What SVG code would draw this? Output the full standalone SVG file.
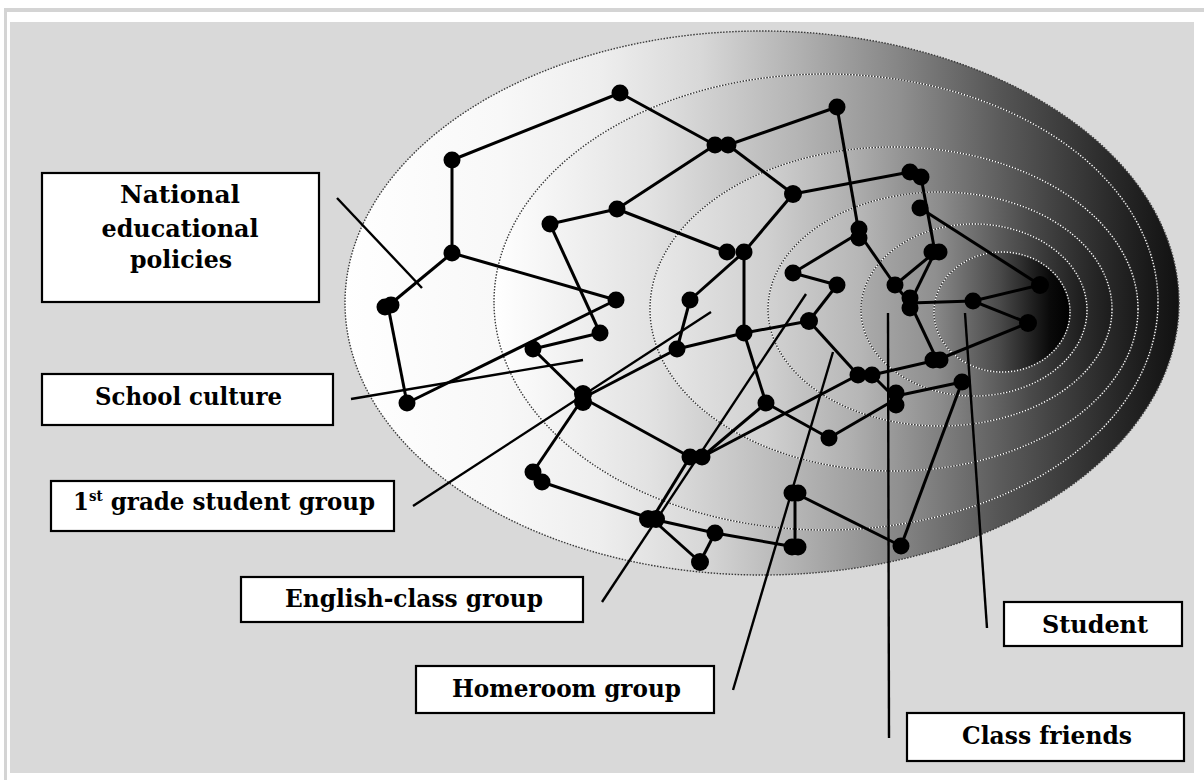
<svg xmlns="http://www.w3.org/2000/svg" width="1204" height="780" viewBox="0 0 1204 780">
<defs>
<linearGradient id="g1" x1="0" y1="0" x2="1" y2="0">
<stop offset="0" stop-color="#ffffff"/><stop offset="0.186" stop-color="#f8f8f8"/><stop offset="0.306" stop-color="#eeeeee"/><stop offset="0.426" stop-color="#d8d8d8"/><stop offset="0.546" stop-color="#b0b0b0"/><stop offset="0.665" stop-color="#858585"/><stop offset="0.785" stop-color="#555555"/><stop offset="0.905" stop-color="#2e2e2e"/><stop offset="1" stop-color="#111111"/>
</linearGradient>
<linearGradient id="g2" x1="0" y1="0" x2="1" y2="0">
<stop offset="0" stop-color="#ffffff"/><stop offset="0.235" stop-color="#e2e2e2"/><stop offset="0.46" stop-color="#b4b4b4"/><stop offset="0.61" stop-color="#909090"/><stop offset="0.76" stop-color="#5c5c5c"/><stop offset="0.9" stop-color="#333333"/><stop offset="1" stop-color="#151515"/>
</linearGradient>
<linearGradient id="g3" x1="0" y1="0" x2="1" y2="0">
<stop offset="0" stop-color="#e9e9e9"/><stop offset="0.24" stop-color="#d0d0d0"/><stop offset="0.41" stop-color="#b0b0b0"/><stop offset="0.615" stop-color="#7a7a7a"/><stop offset="0.82" stop-color="#444444"/><stop offset="1" stop-color="#1a1a1a"/>
</linearGradient>
<linearGradient id="g4" x1="0" y1="0" x2="1" y2="0">
<stop offset="0" stop-color="#d2d2d2"/><stop offset="0.27" stop-color="#b6b6b6"/><stop offset="0.5" stop-color="#8c8c8c"/><stop offset="0.76" stop-color="#4a4a4a"/><stop offset="1" stop-color="#1c1c1c"/>
</linearGradient>
<linearGradient id="g5" x1="0" y1="0" x2="1" y2="0">
<stop offset="0" stop-color="#ababab"/><stop offset="0.33" stop-color="#8f8f8f"/><stop offset="0.615" stop-color="#5a5a5a"/><stop offset="1" stop-color="#1a1a1a"/>
</linearGradient>
<linearGradient id="g6" x1="0" y1="0" x2="1" y2="0">
<stop offset="0" stop-color="#8a8a8a"/><stop offset="0.48" stop-color="#4a4a4a"/><stop offset="0.85" stop-color="#0a0a0a"/><stop offset="1" stop-color="#000000"/>
</linearGradient>
<style>
.rw{fill:none;stroke:#ffffff;stroke-width:1.4;stroke-dasharray:1.5 1.5}
.rk{fill:none;stroke:#3a3a3a;stroke-width:1.4;stroke-dasharray:1.5 1.5;stroke-dashoffset:1.5}
.e{stroke:#000;stroke-width:3;fill:none}
.ld{stroke:#000;stroke-width:2.4;fill:none}
.d{fill:#000}
.box{fill:#fff;stroke:#000;stroke-width:2.2}
.t{font-family:"DejaVu Serif","Liberation Serif",serif;font-weight:bold;font-size:24px;fill:#000}
</style>
</defs>
<rect x="0" y="0" width="1204" height="780" fill="#ffffff"/>
<rect x="4" y="8" width="1200" height="4" fill="#d4d4d4"/>
<rect x="4" y="8" width="3" height="772" fill="#d4d4d4"/>
<rect x="10" y="22" width="1184" height="751" fill="#d9d9d9"/>

<g id="rings">
<ellipse cx="762" cy="303" rx="417" ry="272" fill="url(#g1)"/>
<ellipse cx="762" cy="303" rx="417" ry="272" class="rk" style="stroke-dashoffset:0"/>
<ellipse cx="826" cy="302" rx="332" ry="228" fill="url(#g2)"/>
<ellipse cx="826" cy="302" rx="332" ry="228" class="rw"/><ellipse cx="826" cy="302" rx="332" ry="228" class="rk"/>
<ellipse cx="894" cy="309" rx="244" ry="162" fill="url(#g3)"/>
<ellipse cx="894" cy="309" rx="244" ry="162" class="rw"/><ellipse cx="894" cy="309" rx="244" ry="162" class="rk"/>
<ellipse cx="940" cy="309" rx="172" ry="117" fill="url(#g4)"/>
<ellipse cx="940" cy="309" rx="172" ry="117" class="rw"/><ellipse cx="940" cy="309" rx="172" ry="117" class="rk"/>
<ellipse cx="974" cy="310" rx="113" ry="86" fill="url(#g5)"/>
<ellipse cx="974" cy="310" rx="113" ry="86" class="rw"/><ellipse cx="974" cy="310" rx="113" ry="86" class="rk"/>
<ellipse cx="1002" cy="312" rx="68" ry="60" fill="url(#g6)"/>
<ellipse cx="1002" cy="312" rx="68" ry="60" class="rw"/><ellipse cx="1002" cy="312" rx="68" ry="60" class="rk"/>
</g>

<g id="connectors">
<line class="e" x1="620" y1="93" x2="452" y2="160"/>
<line class="e" x1="452" y1="160" x2="452" y2="253"/>
<line class="e" x1="452" y1="253" x2="388" y2="306"/>
<line class="e" x1="452" y1="253" x2="616" y2="300"/>
<line class="e" x1="388" y1="306" x2="407" y2="403"/>
<line class="e" x1="407" y1="403" x2="616" y2="300"/>
<line class="e" x1="550" y1="224" x2="617" y2="209"/>
<line class="e" x1="550" y1="224" x2="600" y2="333"/>
<line class="e" x1="600" y1="333" x2="533" y2="349"/>
<line class="e" x1="533" y1="349" x2="583" y2="398"/>
<line class="e" x1="620" y1="93" x2="715" y2="145"/>
<line class="e" x1="728" y1="145" x2="837" y2="107"/>
<line class="e" x1="728" y1="145" x2="793" y2="194"/>
<line class="e" x1="715" y1="145" x2="617" y2="209"/>
<line class="e" x1="617" y1="209" x2="727" y2="252"/>
<line class="e" x1="793" y1="194" x2="744" y2="252"/>
<line class="e" x1="793" y1="194" x2="910" y2="172"/>
<line class="e" x1="837" y1="107" x2="859" y2="233"/>
<line class="e" x1="921" y1="177" x2="935" y2="252"/>
<line class="e" x1="920" y1="208" x2="1040" y2="285"/>
<line class="e" x1="859" y1="233" x2="793" y2="273"/>
<line class="e" x1="859" y1="233" x2="895" y2="285"/>
<line class="e" x1="793" y1="273" x2="837" y2="285"/>
<line class="e" x1="837" y1="285" x2="809" y2="321"/>
<line class="e" x1="744" y1="252" x2="690" y2="300"/>
<line class="e" x1="744" y1="252" x2="744" y2="333"/>
<line class="e" x1="690" y1="300" x2="677" y2="349"/>
<line class="e" x1="935" y1="252" x2="895" y2="285"/>
<line class="e" x1="935" y1="252" x2="910" y2="303"/>
<line class="e" x1="895" y1="285" x2="910" y2="303"/>
<line class="e" x1="910" y1="303" x2="973" y2="301"/>
<line class="e" x1="973" y1="301" x2="1040" y2="285"/>
<line class="e" x1="973" y1="301" x2="1028" y2="323"/>
<line class="e" x1="910" y1="303" x2="937" y2="360"/>
<line class="e" x1="937" y1="360" x2="1028" y2="323"/>
<line class="e" x1="937" y1="360" x2="872" y2="375"/>
<line class="e" x1="858" y1="375" x2="809" y2="321"/>
<line class="e" x1="872" y1="375" x2="896" y2="399"/>
<line class="e" x1="858" y1="375" x2="702" y2="457"/>
<line class="e" x1="809" y1="321" x2="744" y2="333"/>
<line class="e" x1="744" y1="333" x2="677" y2="349"/>
<line class="e" x1="744" y1="333" x2="766" y2="403"/>
<line class="e" x1="766" y1="403" x2="829" y2="438"/>
<line class="e" x1="829" y1="438" x2="896" y2="399"/>
<line class="e" x1="896" y1="396" x2="962" y2="382"/>
<line class="e" x1="962" y1="382" x2="901" y2="546"/>
<line class="e" x1="702" y1="457" x2="766" y2="403"/>
<line class="e" x1="677" y1="349" x2="583" y2="398"/>
<line class="e" x1="583" y1="398" x2="690" y2="457"/>
<line class="e" x1="583" y1="398" x2="533" y2="472"/>
<line class="e" x1="542" y1="482" x2="652" y2="519"/>
<line class="e" x1="652" y1="519" x2="690" y2="457"/>
<line class="e" x1="652" y1="519" x2="715" y2="533"/>
<line class="e" x1="652" y1="519" x2="700" y2="562"/>
<line class="e" x1="715" y1="533" x2="700" y2="562"/>
<line class="e" x1="715" y1="533" x2="795" y2="547"/>
<line class="e" x1="795" y1="493" x2="795" y2="547"/>
<line class="e" x1="795" y1="493" x2="901" y2="546"/>
<line class="ld" x1="337" y1="198" x2="422" y2="288"/>
<line class="ld" x1="351" y1="399" x2="583" y2="360"/>
<line class="ld" x1="413" y1="506" x2="711" y2="312"/>
<line class="ld" x1="602" y1="602" x2="806" y2="294"/>
<line class="ld" x1="733" y1="690" x2="833" y2="352"/>
<line class="ld" x1="889" y1="738" x2="888" y2="313"/>
<line class="ld" x1="987" y1="628" x2="965" y2="313"/>
</g>

<g id="dots">
<g id="n1"><circle class="d" cx="620" cy="93" r="8.5"/></g>
<g id="n2"><circle class="d" cx="452" cy="160" r="8.5"/></g>
<g id="n3"><circle class="d" cx="452" cy="253" r="8.5"/></g>
<g id="n4"><circle class="d" cx="385" cy="307" r="8.5"/><circle class="d" cx="391" cy="305" r="8.5"/></g>
<g id="n5"><circle class="d" cx="550" cy="224" r="8.5"/></g>
<g id="n6"><circle class="d" cx="617" cy="209" r="8.5"/></g>
<g id="n7"><circle class="d" cx="616" cy="300" r="8.5"/></g>
<g id="n8"><circle class="d" cx="600" cy="333" r="8.5"/></g>
<g id="n9"><circle class="d" cx="407" cy="403" r="8.5"/></g>
<g id="n10"><circle class="d" cx="533" cy="349" r="8.5"/></g>
<g id="n11"><circle class="d" cx="583" cy="394" r="9"/><circle class="d" cx="583" cy="402" r="9"/></g>
<g id="n12"><circle class="d" cx="715" cy="145" r="8.5"/><circle class="d" cx="728" cy="145" r="8.5"/></g>
<g id="n13"><circle class="d" cx="837" cy="107" r="8.5"/></g>
<g id="n14"><circle class="d" cx="793" cy="194" r="9"/></g>
<g id="n15"><circle class="d" cx="727" cy="252" r="8.5"/><circle class="d" cx="744" cy="252" r="8.5"/></g>
<g id="n16"><circle class="d" cx="910" cy="172" r="8.5"/><circle class="d" cx="921" cy="177" r="8.5"/></g>
<g id="n17"><circle class="d" cx="920" cy="208" r="8.5"/></g>
<g id="n18"><circle class="d" cx="859" cy="229" r="8.5"/><circle class="d" cx="859" cy="238" r="8.5"/></g>
<g id="n19"><circle class="d" cx="932" cy="252" r="8.5"/><circle class="d" cx="939" cy="252" r="8.5"/></g>
<g id="n20"><circle class="d" cx="793" cy="273" r="8.5"/></g>
<g id="n21"><circle class="d" cx="837" cy="285" r="8.5"/></g>
<g id="n22"><circle class="d" cx="690" cy="300" r="8.5"/></g>
<g id="n23"><circle class="d" cx="895" cy="285" r="8.5"/></g>
<g id="n24"><circle class="d" cx="910" cy="298" r="8.5"/><circle class="d" cx="910" cy="308" r="8.5"/></g>
<g id="n25"><circle class="d" cx="809" cy="321" r="9"/></g>
<g id="n26"><circle class="d" cx="744" cy="333" r="8.5"/></g>
<g id="n27"><circle class="d" cx="677" cy="349" r="8.5"/></g>
<g id="n28"><circle class="d" cx="973" cy="301" r="8.5"/></g>
<g id="n29"><circle class="d" cx="1040" cy="285" r="9"/></g>
<g id="n30"><circle class="d" cx="1028" cy="323" r="9"/></g>
<g id="n31"><circle class="d" cx="933" cy="360" r="8.5"/><circle class="d" cx="940" cy="360" r="8.5"/></g>
<g id="n32"><circle class="d" cx="858" cy="375" r="8.5"/><circle class="d" cx="872" cy="375" r="8.5"/></g>
<g id="n33"><circle class="d" cx="896" cy="393" r="8.5"/><circle class="d" cx="896" cy="405" r="8.5"/></g>
<g id="n34"><circle class="d" cx="962" cy="382" r="8.5"/></g>
<g id="n35"><circle class="d" cx="766" cy="403" r="8.5"/></g>
<g id="n36"><circle class="d" cx="829" cy="438" r="8.5"/></g>
<g id="n37"><circle class="d" cx="690" cy="457" r="8.5"/><circle class="d" cx="702" cy="457" r="8.5"/></g>
<g id="n38"><circle class="d" cx="533" cy="472" r="8.5"/><circle class="d" cx="542" cy="482" r="8.5"/></g>
<g id="n39"><circle class="d" cx="648" cy="519" r="9"/><circle class="d" cx="656" cy="519" r="9"/></g>
<g id="n40"><circle class="d" cx="715" cy="533" r="8.5"/></g>
<g id="n41"><circle class="d" cx="700" cy="562" r="9"/></g>
<g id="n42"><circle class="d" cx="792" cy="493" r="8.5"/><circle class="d" cx="798" cy="493" r="8.5"/></g>
<g id="n43"><circle class="d" cx="792" cy="547" r="8.5"/><circle class="d" cx="798" cy="547" r="8.5"/></g>
<g id="n44"><circle class="d" cx="901" cy="546" r="8.5"/></g>
</g>

<g id="label-national">
<rect class="box" x="42" y="173" width="277" height="129"/>
<text class="t" x="180" y="203" text-anchor="middle" textLength="120" lengthAdjust="spacingAndGlyphs">National</text>
<text class="t" x="180" y="237" text-anchor="middle" textLength="157" lengthAdjust="spacingAndGlyphs">educational</text>
<text class="t" x="181" y="268" text-anchor="middle" textLength="102" lengthAdjust="spacingAndGlyphs">policies</text>
</g>
<g id="label-school-culture">
<rect class="box" x="42" y="374" width="291" height="51"/>
<text class="t" x="95" y="405" textLength="187" lengthAdjust="spacingAndGlyphs">School culture</text>
</g>
<g id="label-first-grade">
<rect class="box" x="51" y="481" width="343" height="50"/>
<text class="t" x="73" y="510" textLength="302" lengthAdjust="spacingAndGlyphs">1<tspan font-size="14" dy="-9">st</tspan><tspan dy="9"> grade student group</tspan></text>
</g>
<g id="label-english">
<rect class="box" x="241" y="577" width="342" height="45"/>
<text class="t" x="285" y="607" textLength="258" lengthAdjust="spacingAndGlyphs">English-class group</text>
</g>
<g id="label-homeroom">
<rect class="box" x="416" y="666" width="298" height="47"/>
<text class="t" x="452" y="697" textLength="229" lengthAdjust="spacingAndGlyphs">Homeroom group</text>
</g>
<g id="label-student">
<rect class="box" x="1004" y="602" width="178" height="44"/>
<text class="t" x="1042" y="633" textLength="106" lengthAdjust="spacingAndGlyphs">Student</text>
</g>
<g id="label-class-friends">
<rect class="box" x="907" y="713" width="277" height="48"/>
<text class="t" x="962" y="744" textLength="170" lengthAdjust="spacingAndGlyphs">Class friends</text>
</g>
</svg>
